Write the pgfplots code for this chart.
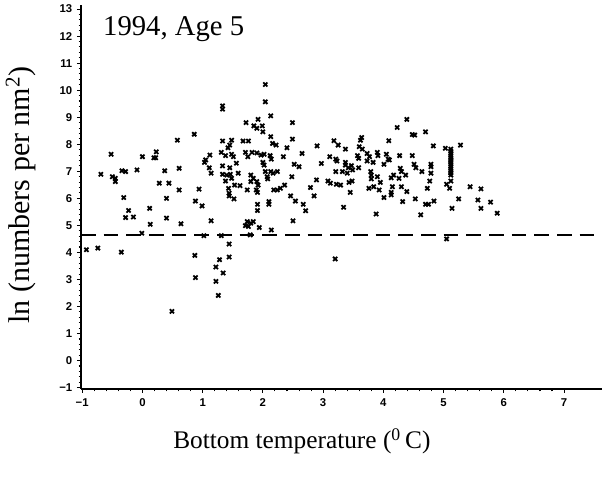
\documentclass[border=0pt]{standalone}
\usepackage{fontspec}
\setmainfont{Liberation Serif}
\setsansfont{Liberation Sans}
\usepackage{pgfplots}
\pgfplotsset{compat=1.18}
\begin{document}
\begin{tikzpicture}
\useasboundingbox (-60.75pt,-66pt) rectangle (391.5pt,291.75pt);
\begin{axis}[
  at={(0,0)}, anchor=south west,
  scale only axis, width=390.75pt, height=288pt,
  xmin=-1.02, xmax=7.63, ymin=-1.05, ymax=13.15,
  axis lines*=left,
  axis line style={line width=1.1pt},
  every outer x axis line/.append style={-},
  every outer y axis line/.append style={-},
  tick align=outside,
  xtick={-1,0,...,7}, ytick={-1,0,...,13},
  xticklabels={−1,0,1,2,3,4,5,6,7},
  yticklabels={−1,0,1,2,3,4,5,6,7,8,9,10,11,12,13},
  minor tick num=4,
  major tick length=3pt, minor tick length=1.8pt,
  tick style={line width=0.8pt,black},
  ticklabel style={font=\sffamily\bfseries\fontsize{8.5}{10}\selectfont},
  xticklabel style={yshift=-1pt},
  xlabel={Bottom temperature (\textsuperscript{0}\,C)},
  ylabel={ln (numbers per nm\textsuperscript{2})},
  xlabel style={font=\fontsize{19}{22}\selectfont, at={(rel axis cs:0.424,0)}, anchor=center, yshift=-39pt},
  ylabel style={font=\fontsize{22.5}{26}\selectfont, at={(rel axis cs:0,0.505)}, anchor=center, yshift=45pt},
  clip=false,
]
\addplot[black, line width=1.1pt, dash pattern=on 11pt off 6pt] coordinates {(-1.02,4.65) (7.63,4.65)};
\addplot[only marks, mark=x, mark size=2.2pt, mark options={line width=1.35pt, black}] table[row sep=\\] {
x y\\
0.86 8.37\\ 0.58 8.15\\ -0.52 7.63\\ 0.00 7.54\\ 0.23 7.72\\ 0.19 7.50\\ 0.22 7.50\\
-0.69 6.89\\ -0.50 6.80\\ -0.45 6.74\\ -0.45 6.62\\ -0.34 7.02\\ -0.28 6.99\\ -0.09 7.05\\
0.37 7.02\\ 0.61 7.11\\ 0.28 6.56\\ 0.44 6.56\\ 0.61 6.31\\
-0.31 6.03\\ 0.40 6.00\\ 0.88 5.90\\ -0.23 5.55\\ -0.28 5.29\\ -0.15 5.31\\ 0.12 5.63\\
0.40 5.27\\ 0.13 5.04\\ 0.64 5.06\\ -0.01 4.71\\ -0.93 4.10\\ -0.74 4.16\\ -0.35 4.01\\
0.87 3.89\\ 0.88 3.07\\ 0.49 1.82\\
2.04 10.21\\ 2.04 9.57\\ 1.33 9.42\\ 1.33 9.30\\ 2.13 9.05\\ 1.72 8.80\\ 1.92 8.92\\
1.85 8.68\\ 1.90 8.59\\ 1.99 8.68\\ 2.00 8.46\\ 2.49 8.80\\ 2.13 8.28\\ 2.16 8.03\\
2.22 7.97\\ 2.49 8.19\\ 1.33 8.12\\ 1.48 8.15\\ 1.45 7.97\\ 1.42 7.87\\ 1.67 8.12\\
1.76 8.12\\ 2.65 7.66\\ 2.40 7.87\\ 2.34 7.54\\ 1.12 7.60\\ 1.05 7.42\\ 1.03 7.33\\
1.31 7.70\\ 1.38 7.58\\ 1.48 7.63\\ 1.51 7.54\\ 1.71 7.70\\ 1.75 7.54\\ 1.82 7.70\\
1.90 7.68\\ 1.97 7.60\\ 2.02 7.63\\ 2.12 7.58\\ 2.14 7.45\\ 2.00 7.33\\ 2.02 7.23\\
1.11 7.13\\ 1.14 6.93\\ 1.33 7.20\\ 1.45 7.13\\ 1.56 7.30\\ 1.33 6.89\\ 1.40 6.86\\
1.46 6.89\\ 1.48 6.74\\ 1.59 6.93\\ 1.38 6.64\\ 1.53 6.49\\ 1.62 6.47\\ 1.43 6.37\\
1.80 6.86\\ 1.84 6.74\\ 1.80 6.62\\ 1.90 6.62\\ 1.92 6.49\\ 1.89 6.31\\ 1.74 6.31\\
2.04 6.99\\ 2.07 6.80\\ 2.13 6.99\\ 2.17 6.93\\ 2.24 6.99\\ 2.08 6.72\\ 2.48 6.80\\
2.52 7.26\\ 2.60 7.17\\ 2.18 6.31\\ 2.24 6.31\\ 2.29 6.37\\ 2.36 6.49\\ 0.94 6.34\\
2.79 6.40\\ 1.44 6.19\\ 1.91 6.22\\
1.44 6.09\\ 1.52 5.98\\ 0.99 5.72\\ 1.91 5.78\\ 1.91 5.55\\ 2.10 5.88\\ 2.10 5.78\\
2.46 6.09\\ 2.54 5.90\\ 2.67 5.78\\ 2.71 5.54\\ 1.14 5.17\\ 1.74 5.14\\ 1.80 5.08\\
1.71 4.99\\ 1.76 4.96\\ 1.84 5.14\\ 1.94 4.92\\ 2.14 4.83\\ 2.50 5.17\\ 1.02 4.62\\
1.31 4.62\\ 1.79 4.65\\ 1.44 4.31\\ 1.44 3.83\\ 1.28 3.73\\ 1.22 3.46\\ 1.34 3.24\\
1.22 2.93\\ 1.26 2.41\\
4.39 8.92\\ 4.23 8.62\\ 4.48 8.36\\ 4.52 8.34\\ 4.70 8.46\\ 4.09 8.13\\ 3.64 8.25\\
3.62 8.15\\ 2.90 7.94\\ 3.18 8.13\\ 3.25 7.97\\ 3.37 7.82\\ 3.60 7.91\\ 3.65 7.82\\
3.11 7.54\\ 3.21 7.45\\ 3.23 7.38\\ 3.37 7.33\\ 2.97 7.29\\ 3.57 7.58\\ 3.59 7.48\\
3.73 7.66\\ 3.77 7.54\\ 3.90 7.70\\ 3.91 7.58\\ 4.05 7.63\\ 4.08 7.45\\ 4.27 7.58\\
4.48 7.58\\ 3.73 7.38\\ 3.83 7.33\\ 4.01 7.26\\ 4.10 7.42\\ 3.37 7.23\\ 3.42 7.13\\
3.47 7.21\\ 3.49 7.05\\ 3.40 6.93\\ 3.59 7.13\\ 3.21 6.99\\ 3.32 6.99\\ 3.79 6.99\\
3.80 6.86\\ 4.51 7.26\\ 4.54 7.13\\ 4.64 6.99\\ 4.28 7.11\\ 4.30 6.99\\ 4.17 6.86\\
4.13 6.76\\ 4.26 6.74\\ 4.37 6.86\\ 2.89 6.68\\ 3.08 6.64\\ 3.12 6.56\\ 3.22 6.52\\
3.29 6.49\\ 3.43 6.59\\ 3.48 6.64\\ 3.80 6.72\\ 3.90 6.80\\ 3.95 6.59\\ 3.84 6.43\\
3.93 6.31\\ 4.15 6.43\\ 4.30 6.43\\ 4.39 6.25\\ 4.13 6.22\\ 3.76 6.37\\ 3.45 6.22\\
2.85 6.09\\ 4.01 6.03\\ 4.13 6.13\\ 4.32 5.88\\ 4.53 5.98\\ 4.70 5.78\\ 4.62 5.39\\
3.34 5.67\\ 3.88 5.42\\ 3.20 3.76\\
4.83 7.94\\ 5.03 7.85\\ 5.28 7.97\\ 5.12 6.64\\ 4.79 7.26\\ 4.79 7.17\\ 4.79 6.93\\
4.77 6.64\\ 5.05 6.52\\ 5.10 6.37\\ 5.44 6.43\\ 5.62 6.35\\ 4.73 6.37\\
5.12 6.86\\ 5.12 6.94\\ 5.12 7.02\\ 5.12 7.10\\ 5.12 7.18\\ 5.12 7.26\\ 5.12 7.34\\
5.12 7.42\\ 5.12 7.50\\ 5.12 7.58\\ 5.12 7.66\\ 5.12 7.74\\ 5.12 7.82\\
4.75 5.78\\ 4.84 5.90\\ 5.25 5.98\\ 5.14 5.63\\ 5.57 5.94\\ 5.62 5.63\\ 5.78 5.86\\
5.89 5.45\\ 5.05 4.50\\
};
\node[anchor=west, font=\fontsize{21.5}{24}\selectfont] at (axis cs:-0.73,12.25) {1994, Age 5};
\end{axis}
\end{tikzpicture}
\end{document}
